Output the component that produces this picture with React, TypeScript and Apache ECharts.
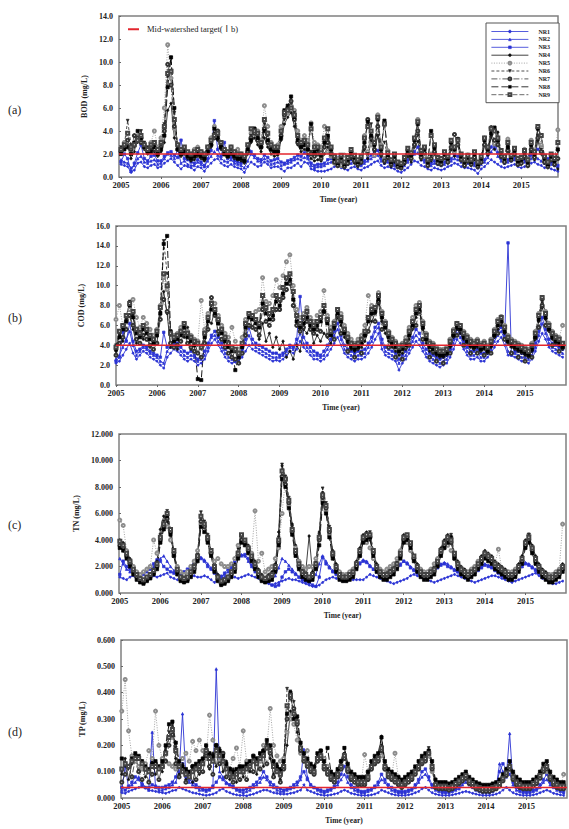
import React, { useEffect, useRef } from 'react';
import * as echarts from 'echarts';

// Year tick labels
const yearTicks = [2005, 2006, 2007, 2008, 2009, 2010, 2011, 2012, 2013, 2014, 2015];
// Monthly sampling times Jan 2005 .. Dec 2015
const months: number[] = [];
for (let k = 0; k < 132; k++) months.push(2005 + k / 12);

const seriesNames = ['NR1', 'NR2', 'NR3', 'NR4', 'NR5', 'NR6', 'NR7', 'NR8', 'NR9'];
const targetName = 'Mid-watershed target(Ⅰb)';

// ---------------- (a) BOD (mg/L) ----------------
const bodNR1 = [
  1.1,1.0,0.9,0.4,0.6,1.2,1.3,0.9,0.8,1.0,1.1,0.8,
  0.9,1.2,1.4,1.6,1.3,1.0,0.7,1.0,0.9,0.8,0.6,0.9,
  0.8,0.5,0.9,1.2,1.5,1.6,1.2,1.0,0.9,1.1,0.9,0.8,
  0.7,0.4,0.9,1.3,1.1,0.9,1.0,1.3,1.1,0.8,0.9,0.9,
  0.7,0.5,0.8,0.8,1.0,1.2,0.9,1.3,1.2,0.7,0.6,0.5,
  0.5,0.5,0.6,0.7,0.9,1.0,0.8,0.7,0.6,0.8,0.9,0.7,
  0.6,0.8,0.9,1.1,1.3,1.4,1.0,0.8,0.9,0.8,0.7,0.5,
  0.4,0.6,0.8,1.1,1.4,1.3,1.0,0.9,0.7,0.6,0.8,0.7,
  0.6,0.7,0.9,1.0,1.2,1.1,0.9,0.8,0.8,0.7,0.6,0.3,
  0.7,0.9,1.2,1.5,1.3,1.1,0.9,0.8,0.9,1.0,1.1,0.9,
  0.8,0.9,1.0,1.2,1.3,1.1,1.0,0.8,0.9,0.7,0.6,0.5,
];
const bodNR2 = [
  1.5,1.3,1.2,0.8,1.0,1.6,1.8,1.3,1.2,1.4,1.5,1.1,
  1.2,1.6,2.0,1.9,1.6,2.4,1.2,1.4,1.1,1.0,1.0,1.3,
  1.1,0.9,1.4,1.8,2.2,1.9,1.6,1.4,1.3,1.5,1.2,1.1,
  1.0,0.8,1.4,2.0,1.7,1.4,1.3,1.6,1.4,1.1,1.2,1.3,
  1.0,1.1,1.2,1.3,1.5,1.6,1.5,1.7,1.6,1.0,0.8,0.9,
  0.9,1.0,1.2,1.3,1.5,1.4,1.1,1.0,1.1,1.2,1.3,1.0,
  1.0,1.2,1.4,1.6,1.8,1.9,1.4,1.2,1.3,1.1,1.0,0.9,
  0.8,1.0,1.3,1.6,2.0,2.1,1.5,1.3,1.1,1.0,1.2,1.1,
  1.0,1.1,1.3,1.4,1.6,1.5,1.3,1.2,1.2,1.1,1.0,0.8,
  1.1,1.3,1.7,2.2,2.6,1.8,1.4,1.2,1.3,1.4,1.5,1.3,
  1.2,1.3,1.4,1.6,1.8,1.6,1.4,1.2,1.3,1.1,1.0,0.9,
];
const bodNR3 = [
  1.3,2.0,1.6,0.5,1.2,2.1,2.8,1.6,1.4,1.8,1.9,1.4,
  1.4,1.8,2.1,2.2,1.9,1.7,3.2,1.6,1.5,1.3,1.2,1.5,
  1.3,1.0,1.6,2.3,4.9,2.4,1.8,3.0,1.6,1.7,1.4,1.3,
  1.2,1.6,2.8,2.2,1.9,1.6,1.5,1.9,1.7,1.4,1.5,1.6,
  1.3,1.2,1.4,1.5,1.7,1.9,1.8,2.1,1.8,1.2,1.0,1.1,
  1.1,1.2,1.5,1.6,1.9,1.7,1.3,1.2,1.3,1.5,1.4,1.2,
  1.1,1.4,1.6,1.9,2.2,2.3,1.6,1.4,1.5,1.3,1.2,1.1,
  1.0,1.2,1.5,1.9,2.2,2.6,1.8,1.5,1.3,1.2,1.4,1.3,
  1.2,1.3,1.5,1.6,1.9,1.8,1.5,1.4,1.4,1.3,1.2,0.9,
  1.3,1.5,2.0,2.6,3.2,2.1,1.6,1.4,1.5,1.6,1.7,1.5,
  1.4,1.5,1.7,1.9,2.1,2.4,2.2,1.5,1.6,1.3,1.2,1.0,
];
const bodNR4 = [
  2.0,2.4,2.8,1.6,2.2,3.6,3.2,2.4,2.0,2.6,2.2,1.8,
  2.2,3.0,5.8,6.4,3.4,2.4,1.8,2.0,1.6,1.4,1.5,1.8,
  1.6,1.4,2.0,2.6,3.6,3.2,2.4,2.0,1.8,2.2,1.6,1.5,
  1.4,1.2,2.0,3.0,3.4,2.8,2.2,3.4,2.6,2.0,1.8,1.9,
  3.2,4.6,5.2,5.6,4.4,2.8,2.2,2.4,2.0,1.6,1.4,1.5,
  1.4,2.0,2.6,1.8,1.2,0.9,1.3,0.8,1.1,1.6,1.2,0.9,
  1.2,2.4,1.6,3.2,2.2,3.6,1.8,1.2,1.6,0.9,1.3,0.8,
  0.7,1.1,1.8,1.3,2.6,3.1,1.5,1.9,0.9,1.4,2.0,1.1,
  1.0,1.6,1.2,2.4,1.8,2.9,1.4,0.9,1.3,1.0,1.5,0.8,
  1.2,2.8,1.9,3.6,2.4,3.9,1.7,1.2,2.2,1.4,1.9,1.0,
  1.1,1.6,0.9,2.2,1.5,3.2,2.0,1.2,0.8,1.4,1.0,0.7,
];
const bodNR5 = [
  2.4,3.0,2.6,2.2,2.8,3.6,3.0,2.6,2.4,3.0,4.0,2.6,
  3.4,6.0,11.5,8.6,4.2,2.8,2.4,2.2,2.0,2.0,2.4,2.6,
  2.2,2.0,2.6,3.4,4.4,3.6,3.0,2.4,2.2,2.6,2.2,2.4,
  2.0,1.8,2.4,3.8,4.2,4.0,3.2,6.2,4.4,3.0,2.6,2.8,
  4.4,5.2,5.6,6.2,5.8,4.0,3.2,3.6,3.2,4.7,3.0,2.8,
  2.6,4.4,2.2,1.8,1.2,1.6,1.0,1.9,1.3,2.2,1.5,1.3,
  1.6,3.6,2.2,2.8,1.9,5.4,2.8,1.6,2.3,1.4,1.8,1.2,
  1.1,1.7,2.3,1.6,2.8,5.0,2.2,1.8,1.3,2.0,2.6,1.5,
  1.4,2.1,1.7,3.0,2.2,3.3,1.6,1.2,1.9,1.3,1.8,1.1,
  1.6,3.4,2.4,4.2,2.9,3.2,1.9,1.5,3.3,1.7,2.3,1.4,
  1.3,2.4,1.6,3.2,2.0,4.3,2.8,1.4,1.1,1.9,1.5,4.1,
];
const bodNR6 = [
  2.6,2.8,4.9,2.8,2.6,3.0,4.0,3.0,2.6,2.4,2.8,2.2,
  2.8,4.6,8.7,10.4,5.6,2.6,2.2,2.4,2.0,1.8,2.0,2.2,
  2.0,1.8,2.4,3.0,3.8,3.6,2.8,2.2,2.0,2.4,2.0,1.8,
  1.8,1.6,2.6,3.6,4.0,3.6,2.8,4.6,3.6,2.6,2.4,2.4,
  3.8,5.0,5.8,6.4,5.6,3.4,2.8,3.0,2.6,2.2,2.0,2.2,
  1.8,2.8,3.3,2.2,1.5,1.1,1.6,1.0,1.4,2.0,1.6,1.2,
  1.5,2.9,2.0,4.6,2.6,3.6,2.2,3.0,1.8,1.2,1.7,1.0,
  0.9,1.4,2.2,1.8,3.0,3.6,1.9,2.3,1.2,1.8,2.4,1.4,
  1.3,1.9,1.5,2.8,2.3,3.1,1.7,1.2,1.6,1.2,1.9,1.0,
  1.5,3.0,2.3,3.4,4.2,3.0,2.0,1.5,2.6,1.6,2.2,1.3,
  1.4,2.0,1.2,2.6,1.9,3.6,2.4,1.5,1.0,1.7,1.3,2.2,
];
const bodNR7 = [
  2.2,2.6,3.2,2.4,3.6,3.4,3.0,2.6,2.2,2.6,2.4,2.0,
  2.6,4.0,9.8,8.0,4.4,2.4,2.0,2.2,1.8,1.6,1.8,2.0,
  1.8,1.6,2.2,2.8,3.4,4.0,2.6,2.0,1.8,2.2,1.8,1.6,
  1.6,1.4,2.2,3.4,3.8,3.2,2.6,4.2,3.0,2.4,2.2,2.2,
  3.6,5.4,6.0,6.6,5.0,3.0,2.6,2.8,2.4,2.0,1.8,2.0,
  1.6,2.6,3.0,2.0,1.3,1.0,1.4,0.9,1.2,1.8,1.4,1.1,
  1.3,2.6,5.0,3.4,2.4,4.4,2.0,1.4,1.7,1.1,1.5,0.9,
  0.8,1.3,2.0,1.6,2.8,4.0,1.7,2.1,1.0,1.6,2.2,1.2,
  1.1,1.7,1.3,2.6,3.7,2.8,1.5,1.0,1.4,1.1,1.7,0.9,
  1.3,2.8,2.1,4.3,3.2,2.8,1.8,1.3,2.3,1.5,2.0,1.1,
  1.2,1.8,1.0,2.4,1.7,3.4,2.2,1.3,0.9,1.5,1.1,1.6,
];
const bodNR8 = [
  2.0,2.4,2.6,2.0,3.0,4.0,3.4,2.6,2.2,2.2,2.6,2.0,
  2.4,3.6,7.8,10.4,6.0,2.4,2.0,2.2,1.8,1.6,1.8,2.0,
  1.8,1.6,2.2,2.8,4.2,3.4,2.6,2.0,1.8,2.0,1.8,1.6,
  1.6,1.4,2.4,3.2,4.2,3.4,2.6,4.0,3.2,2.4,2.2,2.2,
  3.4,5.8,6.2,7.0,5.2,3.2,2.6,2.8,2.4,4.6,2.2,2.4,
  1.9,3.0,3.6,2.4,1.6,1.2,1.7,1.1,1.5,2.1,1.7,1.3,
  1.6,3.0,4.8,3.6,2.8,5.0,2.4,4.9,1.9,1.3,1.8,1.1,
  1.0,1.5,2.3,1.9,3.2,4.6,2.0,2.4,1.3,4.0,2.5,1.5,
  1.4,2.0,1.6,3.0,2.4,3.3,1.8,1.3,1.7,1.3,2.0,1.1,
  1.6,3.2,2.4,3.8,4.3,3.2,2.1,1.6,2.6,1.7,2.3,1.4,
  1.5,2.1,1.3,2.8,2.0,4.2,3.6,1.6,1.1,1.8,1.4,2.4,
];
const bodNR9 = [
  2.4,2.8,3.8,2.6,2.8,3.2,3.6,2.8,2.4,2.8,3.0,2.4,
  3.0,4.4,9.0,9.2,5.0,2.8,2.4,2.6,2.2,2.0,2.2,2.4,
  2.2,2.0,2.6,3.2,3.6,3.8,3.0,2.4,2.2,2.6,2.2,2.0,
  2.0,1.8,2.8,4.2,4.0,3.8,3.0,5.0,3.8,2.8,2.6,2.6,
  4.0,5.6,5.8,6.0,5.4,3.6,3.0,3.2,2.8,4.2,2.6,2.6,
  2.1,3.4,4.2,2.6,1.8,1.4,1.9,1.3,1.7,2.4,1.9,1.5,
  1.8,3.4,4.4,4.0,3.0,5.2,2.6,4.6,2.1,1.5,2.0,1.3,
  1.2,1.7,2.5,2.1,3.4,4.8,2.3,2.6,1.5,3.6,2.8,1.7,
  1.6,2.2,1.8,3.2,2.6,3.2,2.0,1.5,1.9,1.5,2.2,1.3,
  1.8,3.4,2.6,4.2,4.0,3.4,2.3,1.8,3.0,1.9,2.5,1.6,
  1.7,2.3,1.5,3.0,2.2,4.4,3.6,1.8,1.3,2.0,1.6,3.0,
];

// ---------------- (b) COD (mg/L) ----------------
const codNR1 = [
  2.2,2.4,3.0,3.6,4.2,3.2,2.6,3.0,3.4,3.2,2.8,2.6,
  2.4,2.0,1.7,2.8,3.2,3.6,3.4,3.0,2.6,2.4,2.6,2.4,
  2.0,2.2,2.6,3.4,4.2,4.6,4.0,3.4,2.8,2.4,2.2,2.3,
  2.4,2.8,3.4,4.0,3.6,3.4,3.2,3.0,2.8,2.6,2.4,2.5,
  2.4,2.6,3.0,3.4,3.2,3.6,4.4,3.8,3.4,3.0,2.6,2.6,
  2.4,2.6,3.0,3.6,4.2,4.8,4.0,3.2,2.8,2.6,2.4,2.6,
  2.6,2.8,3.2,3.8,4.6,5.2,3.6,3.0,2.8,2.6,2.4,1.5,
  2.2,2.6,3.2,3.8,4.4,4.0,3.4,2.8,2.4,2.2,2.0,1.8,
  2.0,2.2,2.8,3.6,4.6,4.2,3.6,3.0,2.6,2.6,2.8,2.4,
  2.4,2.8,3.2,3.8,4.4,4.8,4.0,3.0,3.0,2.8,2.6,2.4,
  2.4,2.2,2.6,3.4,4.4,5.2,4.6,3.8,3.4,3.2,3.0,2.8,
];
const codNR2 = [
  2.6,3.0,3.8,4.6,5.4,4.0,3.0,3.4,3.8,3.6,3.2,3.0,
  2.8,2.4,2.2,3.4,3.8,4.2,3.8,3.4,3.0,2.8,3.0,2.8,
  2.4,2.6,3.0,3.8,4.8,5.0,4.4,3.8,3.2,2.8,2.6,2.5,
  2.8,3.4,4.2,5.0,4.2,3.8,3.6,3.4,3.2,3.0,2.8,2.8,
  2.8,3.0,3.4,3.8,3.6,4.2,5.2,4.2,3.8,3.4,3.0,3.0,
  2.8,3.0,3.6,4.2,5.0,5.6,4.6,3.6,3.2,3.0,2.8,3.0,
  3.0,3.2,3.8,4.4,5.4,5.8,4.2,3.4,3.2,3.0,2.8,2.2,
  2.6,3.0,3.6,4.4,5.0,4.6,3.8,3.2,2.8,2.6,2.4,2.2,
  2.4,2.6,3.2,4.2,5.2,4.8,4.0,3.4,3.0,3.0,3.2,2.8,
  2.8,3.2,3.6,4.4,5.0,5.4,4.6,3.4,3.2,3.2,3.0,2.8,
  2.8,2.6,3.0,3.8,5.0,6.2,5.2,4.2,3.8,3.6,3.4,3.2,
];
const codNR3 = [
  2.4,2.8,5.4,4.4,6.2,4.4,3.4,3.6,4.0,3.8,3.4,3.2,
  3.0,2.8,5.3,3.8,4.2,4.6,4.2,3.8,3.4,3.2,3.4,3.0,
  2.6,2.8,3.4,4.2,5.0,5.4,4.8,4.2,3.6,3.2,2.8,2.6,
  3.0,3.6,4.6,5.8,4.6,4.2,4.0,3.8,3.6,3.4,3.2,3.2,
  3.0,3.2,3.6,4.0,3.8,4.6,8.9,4.8,4.2,3.8,3.4,3.2,
  3.0,3.4,4.0,4.6,5.4,6.2,5.0,4.0,3.6,3.4,3.2,3.4,
  3.4,3.6,4.2,4.8,5.8,6.2,4.6,3.8,3.6,3.4,3.2,2.6,
  3.0,3.4,4.0,4.8,5.6,5.2,4.2,3.6,3.2,3.0,2.8,2.6,
  2.8,3.0,3.6,4.6,5.6,5.2,4.4,3.8,3.4,3.4,3.6,3.2,
  3.2,3.6,4.0,4.8,5.4,5.8,5.0,14.3,3.0,3.4,3.4,3.2,
  3.2,3.0,3.4,4.2,5.4,6.8,5.6,4.6,4.2,4.0,3.8,3.6,
];
const codNR4 = [
  3.4,5.2,4.4,6.4,7.0,5.6,4.2,5.4,4.6,5.6,3.8,4.4,
  4.2,7.4,9.4,7.2,3.8,4.8,3.6,5.6,4.8,5.8,3.6,4.4,
  3.2,4.0,4.2,6.6,6.2,7.6,5.0,5.8,3.8,4.4,2.8,3.4,
  2.2,3.8,5.0,7.0,5.8,6.6,4.6,6.2,4.4,5.2,3.8,4.8,
  3.6,4.4,2.8,3.4,2.6,4.0,3.4,5.6,5.2,6.0,4.2,5.0,
  4.4,5.2,4.8,4.2,5.6,6.8,6.0,4.8,4.2,3.6,3.4,3.6,
  3.8,4.4,5.4,6.4,7.2,8.2,6.4,5.2,4.4,3.8,3.4,3.0,
  3.2,3.6,4.6,5.6,6.8,7.4,5.6,4.2,3.4,3.2,3.0,2.8,
  2.8,3.0,3.8,4.8,5.6,5.2,4.6,4.2,3.8,3.6,3.8,3.4,
  3.6,3.2,3.8,4.8,5.6,6.0,5.2,4.2,3.8,3.6,3.4,3.2,
  3.0,2.8,3.4,4.6,6.4,7.8,6.6,5.4,4.6,4.2,4.0,3.6,
];
const codNR5 = [
  6.6,8.0,6.0,6.4,7.6,8.6,6.8,5.8,6.8,6.2,5.6,5.0,
  5.6,8.0,10.8,9.6,5.4,5.0,5.2,5.8,6.2,5.4,5.0,4.6,
  4.4,8.5,5.6,7.2,8.4,8.2,7.0,6.0,5.2,4.8,5.8,4.4,
  3.6,4.8,6.6,7.2,7.0,7.4,7.6,10.8,8.4,8.2,9.0,10.6,
  9.8,11.0,12.4,13.1,10.0,7.6,6.8,7.2,7.8,6.8,6.4,7.0,
  7.4,9.5,7.0,5.8,6.4,7.6,7.2,6.0,5.2,4.6,4.2,4.6,
  5.0,6.0,9.0,8.0,7.8,9.3,7.4,6.4,5.4,4.8,4.4,4.0,
  4.2,4.8,5.8,6.8,8.0,8.3,6.4,5.2,4.4,4.2,3.8,3.6,
  3.6,3.8,4.6,5.6,6.2,6.0,5.4,5.0,4.6,4.4,4.6,4.2,
  4.4,4.0,4.6,5.6,6.6,6.9,6.0,5.0,4.6,4.4,4.2,4.0,
  3.8,3.6,4.2,5.4,7.2,8.6,7.4,6.2,5.4,5.0,4.8,6.0,
];
const codNR6 = [
  4.0,5.0,5.8,6.6,8.4,7.0,5.4,5.0,5.8,5.4,4.8,4.4,
  5.2,7.6,14.5,11.2,5.0,4.6,4.8,5.2,6.0,5.0,4.6,4.2,
  4.0,3.6,5.0,6.6,8.0,7.4,6.4,5.4,4.6,4.0,3.6,3.4,
  3.0,4.0,6.0,7.0,6.8,6.4,6.0,8.8,7.6,7.0,7.4,8.8,
  8.4,9.6,10.6,11.0,9.2,6.8,6.0,6.6,7.2,6.2,5.8,6.2,
  6.6,7.8,6.4,5.2,6.0,7.4,6.6,5.4,4.6,4.0,3.8,4.0,
  4.4,5.2,6.6,7.4,7.6,8.8,7.0,6.0,5.0,4.4,4.0,3.6,
  3.8,4.2,5.2,6.2,7.4,7.8,6.0,4.8,4.0,3.8,3.4,3.2,
  3.2,3.4,4.2,5.2,6.0,5.8,5.0,4.6,4.2,4.0,4.2,3.8,
  4.0,3.6,4.2,5.2,6.2,6.6,5.6,4.6,4.2,4.0,3.8,3.6,
  3.4,3.2,3.8,5.0,6.8,8.4,7.0,5.8,5.0,4.6,4.4,4.0,
];
const codNR7 = [
  3.0,4.2,4.8,5.6,7.0,6.0,4.6,4.2,5.0,4.6,4.0,3.6,
  4.2,6.6,8.6,7.4,4.2,3.8,4.0,4.4,5.2,4.2,3.8,3.4,
  3.2,2.8,4.2,5.6,8.8,7.0,5.4,4.6,3.8,3.2,2.8,2.6,
  2.2,3.2,5.0,6.0,5.8,5.6,5.0,7.6,6.4,6.0,6.6,7.6,
  7.6,8.8,9.6,10.2,8.0,6.0,5.4,5.8,6.4,5.6,5.2,5.6,
  5.4,7.4,5.0,5.2,4.6,7.0,5.2,5.4,3.4,4.0,2.8,3.8,
  3.2,5.0,5.4,7.2,6.4,8.4,5.6,6.0,3.8,4.2,2.8,3.4,
  2.6,3.8,4.0,5.8,6.0,7.4,4.6,4.6,2.8,3.4,2.4,3.0,
  2.2,3.2,3.2,5.0,5.0,5.6,4.0,4.4,3.2,3.8,3.2,3.6,
  3.0,3.4,3.2,5.0,5.2,6.4,4.6,4.4,3.2,3.8,2.8,3.4,
  2.4,3.0,2.8,4.8,5.8,8.0,6.0,5.6,4.0,4.4,3.4,3.8,
];
const codNR8 = [
  3.6,4.8,5.6,6.4,8.0,6.8,5.2,4.8,5.6,5.2,4.6,4.2,
  5.0,7.2,14.2,15.0,5.4,4.4,4.6,5.0,5.8,4.8,4.4,4.0,
  0.6,0.5,4.8,6.4,7.6,7.2,6.2,5.2,4.4,3.8,3.4,1.5,
  2.8,3.8,5.8,6.8,6.6,6.2,5.8,8.2,7.2,6.6,7.0,8.4,
  8.0,9.2,10.2,10.6,8.6,6.4,5.8,6.2,6.8,6.0,5.6,6.0,
  6.4,7.4,6.2,5.0,5.8,7.2,6.4,5.2,4.4,3.8,3.6,3.8,
  4.2,5.0,6.4,7.2,7.4,8.6,6.8,5.8,4.8,4.2,3.8,3.4,
  3.6,4.0,5.0,6.0,7.2,7.6,5.8,4.6,3.8,3.6,3.2,3.0,
  3.0,3.2,4.0,5.0,5.8,5.6,4.8,4.4,4.0,3.8,4.0,3.6,
  3.8,3.4,4.0,5.0,6.0,6.4,5.4,4.4,4.0,3.8,3.6,3.4,
  3.2,3.0,3.6,4.8,6.6,8.8,6.8,5.6,4.8,4.4,4.2,3.8,
];
const codNR9 = [
  3.8,5.4,6.0,7.0,8.2,7.4,5.6,5.2,6.0,5.6,5.0,4.6,
  5.4,7.8,11.2,10.0,5.2,4.8,5.0,5.4,6.2,5.2,4.8,4.4,
  4.2,3.8,5.2,6.8,8.2,7.6,6.6,5.6,4.8,4.2,3.8,3.6,
  3.2,4.2,6.2,7.2,7.0,6.6,6.2,9.0,7.8,7.2,7.6,9.0,
  8.6,9.8,10.8,11.2,9.4,7.0,6.2,6.8,7.4,6.4,6.0,6.4,
  6.8,8.0,6.6,5.4,6.2,7.6,6.8,5.6,4.8,4.2,4.0,4.2,
  4.6,5.4,6.8,7.6,7.8,9.0,7.2,6.2,5.2,4.6,4.2,3.8,
  4.0,4.4,5.4,6.4,7.6,8.0,6.2,5.0,4.2,4.0,3.6,3.4,
  3.4,3.6,4.4,5.4,6.2,6.0,5.2,4.8,4.4,4.2,4.4,4.0,
  4.2,3.8,4.4,5.4,6.4,6.8,5.8,4.8,4.4,4.2,4.0,3.8,
  3.6,3.4,4.0,5.2,7.0,8.8,7.2,6.0,5.2,4.8,4.6,4.2,
];

// ---------------- (c) TN (mg/L) ----------------
const tnNR1 = [
  1.2,1.1,1.0,1.2,1.3,1.0,0.9,1.0,1.1,1.2,1.3,1.2,
  1.3,1.4,1.5,1.2,1.1,1.0,1.0,1.1,1.2,1.2,1.3,1.2,
  1.2,1.3,1.2,1.0,0.8,1.0,1.1,1.2,1.3,1.2,1.2,1.1,
  1.2,1.3,1.4,1.3,1.2,1.1,1.0,0.9,0.7,0.6,0.7,0.8,
  0.9,1.0,1.1,1.0,1.0,0.9,0.8,0.7,0.6,0.5,0.5,0.6,
  0.8,1.0,1.1,1.2,1.1,1.0,0.9,0.9,1.0,1.0,1.0,1.0,
  1.0,1.2,1.4,1.3,1.2,1.1,1.0,0.9,0.8,0.7,0.8,0.9,
  1.0,1.1,1.3,1.4,1.3,1.2,1.1,1.0,0.9,0.8,0.9,1.0,
  1.1,1.2,1.3,1.4,1.3,1.2,1.1,1.0,0.9,0.8,0.9,1.0,
  1.1,1.2,1.3,1.3,1.2,1.1,1.0,0.9,0.8,0.9,1.0,1.1,
  1.2,1.3,1.4,1.5,1.3,1.1,1.0,0.8,0.7,0.7,0.8,0.9,
];
const tnNR2 = [
  2.6,2.2,1.8,1.6,1.5,1.4,1.3,1.4,1.6,1.8,2.0,2.4,
  2.6,2.8,2.4,2.0,1.7,1.5,1.4,1.5,1.7,1.9,2.2,2.6,
  2.7,2.5,2.2,1.9,1.6,1.4,1.3,1.4,1.6,1.9,2.3,2.7,
  2.9,2.8,2.4,2.0,1.6,1.4,1.2,1.0,0.9,1.0,1.3,1.9,
  2.6,2.4,2.1,1.8,1.5,1.2,1.0,0.9,0.8,1.0,1.4,2.2,
  2.8,2.4,2.0,1.7,1.5,1.3,1.2,1.3,1.5,1.7,2.0,2.3,
  2.5,2.4,2.1,1.8,1.6,1.4,1.3,1.4,1.6,1.8,2.0,2.2,
  2.4,2.3,2.0,1.8,1.6,1.4,1.3,1.4,1.6,1.8,2.0,2.2,
  2.3,2.2,2.0,1.8,1.6,1.5,1.3,1.3,1.4,1.6,1.8,2.0,
  2.2,2.1,2.0,1.8,1.6,1.4,1.3,1.3,1.4,1.6,1.8,2.0,
  2.3,2.2,2.0,1.8,1.6,1.4,1.2,1.1,1.2,1.4,1.6,1.8,
];
const tnNR3 = [
  1.4,2.4,2.0,1.8,1.6,1.5,1.4,1.5,1.7,1.9,2.2,2.5,
  2.4,2.0,1.8,1.6,1.5,1.6,1.5,1.6,1.8,2.0,2.4,2.6,
  2.6,2.4,2.0,1.8,1.5,1.3,1.2,1.5,1.8,2.0,2.4,2.8,
  2.8,2.9,2.6,2.1,1.7,1.4,1.2,1.0,0.8,0.6,0.5,0.6,
  1.2,1.6,1.8,1.6,1.4,1.2,1.0,0.9,0.8,0.6,0.5,1.2,
  2.7,2.2,1.9,1.6,1.4,1.3,1.2,1.3,1.4,1.6,1.9,2.2,
  2.4,2.3,2.0,1.8,1.6,1.4,1.3,1.3,1.5,1.7,1.9,2.1,
  2.4,2.2,1.9,1.7,1.5,1.3,1.2,1.3,1.5,1.7,1.9,2.1,
  2.2,2.0,1.9,1.7,1.6,1.4,1.3,1.2,1.4,1.5,1.7,1.9,
  2.1,2.0,1.9,1.7,1.5,1.3,1.2,1.2,1.4,1.6,1.8,2.0,
  2.2,2.1,1.9,1.7,1.5,1.3,1.2,1.1,1.1,1.3,1.6,1.8,
];
const tnNR4 = [
  4.0,3.8,3.2,2.6,2.0,1.6,1.2,1.0,1.2,1.4,1.8,2.4,
  4.8,5.8,5.4,4.4,3.0,1.8,1.2,1.0,1.2,1.6,2.2,3.0,
  5.6,5.2,4.2,3.2,2.2,1.4,0.8,1.0,1.2,1.6,2.2,3.4,
  4.4,4.0,3.6,3.0,2.4,1.8,1.4,1.2,1.4,1.6,2.2,4.6,
  9.6,8.4,7.0,5.2,3.6,2.4,1.8,1.6,4.3,1.6,2.4,4.6,
  7.6,6.6,4.8,3.2,2.2,1.6,1.4,1.4,1.6,1.8,2.4,3.4,
  4.4,4.6,4.0,3.0,2.2,1.8,1.6,1.6,1.8,2.0,2.4,3.2,
  4.4,4.2,3.6,2.8,2.2,1.8,1.6,1.6,1.8,2.0,2.6,3.4,
  4.0,4.4,3.8,3.0,2.4,2.0,1.8,1.6,1.8,2.0,2.4,2.8,
  3.2,3.0,2.8,2.4,2.2,2.0,1.8,1.6,1.6,1.8,2.2,2.8,
  4.0,4.2,3.6,2.8,2.2,1.8,1.6,1.4,1.4,1.6,1.8,2.2,
];
const tnNR5 = [
  5.5,5.1,3.2,2.4,2.0,1.6,1.4,1.6,1.8,2.0,4.0,3.0,
  4.2,5.4,5.0,4.0,2.8,2.0,1.6,1.4,1.6,2.0,2.4,3.2,
  5.2,5.0,4.0,3.0,2.4,2.6,2.2,2.0,2.0,2.2,2.6,3.6,
  4.2,3.8,3.4,3.0,6.2,2.4,3.0,1.6,1.8,2.0,2.6,3.4,
  6.0,8.6,6.6,4.8,3.4,2.4,2.0,1.8,2.0,2.0,2.6,4.2,
  7.0,6.2,4.4,3.0,2.0,1.6,1.4,1.4,1.6,1.8,2.2,2.8,
  4.0,3.8,3.4,2.6,2.0,1.8,1.6,1.8,2.0,2.2,2.6,3.2,
  4.0,3.8,3.2,2.6,2.0,1.8,1.6,1.6,1.8,2.2,2.6,3.2,
  3.4,3.6,3.2,2.6,2.2,1.8,1.6,1.6,1.8,2.0,2.4,2.6,
  3.0,2.8,2.6,2.2,3.3,1.8,1.6,1.6,1.6,1.8,2.0,2.4,
  3.6,4.4,3.4,2.6,2.0,1.6,1.4,1.4,1.4,1.6,1.8,5.2,
];
const tnNR6 = [
  3.8,3.6,3.0,2.4,1.8,1.4,1.0,0.8,1.0,1.2,1.6,2.2,
  4.4,5.4,6.2,4.8,3.2,1.8,1.2,1.0,1.2,1.6,2.0,2.8,
  6.1,5.4,4.4,3.2,2.0,1.2,0.6,0.8,1.0,1.4,2.0,3.0,
  4.2,4.0,3.4,2.8,2.2,1.6,1.2,1.0,1.2,1.4,2.0,4.2,
  9.7,8.8,7.2,5.0,3.2,2.2,1.6,1.4,1.2,1.4,2.2,4.4,
  7.9,6.8,5.0,3.0,2.0,1.4,1.2,1.2,1.4,1.6,2.2,3.2,
  4.2,4.4,4.6,3.2,2.0,1.6,1.4,1.4,1.6,1.8,2.2,3.0,
  4.2,4.4,3.8,2.8,2.0,1.6,1.4,1.4,1.6,1.8,2.4,3.2,
  3.8,4.2,4.4,3.0,2.2,1.8,1.6,1.4,1.6,1.8,2.2,2.6,
  3.0,2.8,2.6,2.2,2.0,1.8,1.6,1.4,1.4,1.6,2.0,2.6,
  3.8,4.4,3.4,2.6,2.0,1.6,1.4,1.2,1.2,1.4,1.6,2.0,
];
const tnNR7 = [
  3.6,3.4,2.8,2.2,1.6,1.2,1.0,0.8,1.0,1.2,1.5,2.0,
  4.0,5.0,5.6,4.6,3.0,1.6,1.0,0.9,1.0,1.4,1.8,2.6,
  5.4,5.0,4.0,3.0,1.8,1.0,0.7,0.8,1.0,1.4,1.8,2.8,
  4.0,3.8,3.2,2.6,2.0,1.4,1.0,0.9,1.0,1.2,1.8,3.8,
  8.8,8.2,6.8,4.6,3.0,2.0,1.4,1.2,1.0,1.2,2.0,4.0,
  7.2,6.4,4.6,2.8,1.8,1.2,1.0,1.0,1.2,1.4,2.0,3.0,
  4.0,4.2,4.2,3.0,1.8,1.4,1.2,1.2,1.4,1.6,2.0,2.8,
  4.0,4.2,3.6,2.6,1.8,1.4,1.2,1.2,1.4,1.6,2.2,3.0,
  3.6,4.0,3.8,2.8,2.0,1.6,1.4,1.2,1.4,1.6,2.0,2.4,
  2.8,2.6,2.4,2.0,1.8,1.6,1.4,1.2,1.2,1.4,1.8,2.4,
  3.6,4.0,3.2,2.4,1.8,1.4,1.2,1.0,1.0,1.2,1.4,1.8,
];
const tnNR8 = [
  3.4,3.2,2.6,2.0,1.4,1.0,0.8,0.7,0.9,1.1,1.4,1.8,
  3.8,4.8,5.8,4.4,2.8,1.4,0.9,0.8,0.9,1.2,1.6,2.4,
  5.0,4.6,3.8,2.8,1.6,0.9,0.6,0.7,0.9,1.2,1.6,2.6,
  3.8,3.6,3.0,2.4,1.8,1.2,0.9,0.8,0.9,1.0,1.6,3.6,
  8.6,8.0,6.4,4.4,2.8,1.8,1.2,1.0,0.9,1.0,1.8,3.6,
  6.8,6.0,4.2,2.6,1.6,1.0,0.9,0.9,1.0,1.2,1.8,2.8,
  3.8,4.0,4.2,2.8,1.6,1.2,1.0,1.0,1.2,1.4,1.8,2.6,
  3.8,4.0,3.4,2.4,1.6,1.2,1.0,1.0,1.2,1.4,2.0,2.8,
  3.4,3.8,4.2,2.6,1.8,1.4,1.2,1.0,1.2,1.4,1.8,2.2,
  2.6,2.4,2.2,1.8,1.6,1.4,1.2,1.0,1.0,1.2,1.6,2.2,
  3.4,3.8,3.0,2.2,1.6,1.2,1.0,0.8,0.8,1.0,1.2,1.6,
];
const tnNR9 = [
  3.9,3.6,3.0,2.4,1.8,1.4,1.1,1.0,1.2,1.4,1.7,2.2,
  4.2,5.2,6.0,4.8,3.2,1.8,1.2,1.1,1.2,1.6,2.0,2.8,
  5.8,5.2,4.2,3.2,2.0,1.2,0.9,1.0,1.2,1.6,2.0,3.0,
  4.4,4.0,3.4,2.8,2.2,1.6,1.2,1.1,1.2,1.4,2.0,4.0,
  9.2,8.6,7.0,4.8,3.2,2.2,1.6,1.4,1.2,1.4,2.2,4.2,
  7.4,6.6,4.8,3.0,2.0,1.4,1.2,1.2,1.4,1.6,2.2,3.2,
  4.2,4.4,4.4,3.2,2.0,1.6,1.4,1.4,1.6,1.8,2.2,3.0,
  4.2,4.4,3.8,2.8,2.0,1.6,1.4,1.4,1.6,1.8,2.4,3.2,
  3.8,4.2,4.0,3.0,2.2,1.8,1.6,1.4,1.6,1.8,2.2,2.6,
  3.0,2.8,2.6,2.2,2.0,1.8,1.6,1.4,1.4,1.6,2.0,2.6,
  3.8,4.2,3.4,2.6,2.0,1.6,1.4,1.2,1.2,1.4,1.6,2.0,
];

// ---------------- (d) TP (mg/L) ----------------
const tpNR1 = [
  .020,.018,.025,.030,.035,.040,.045,.038,.030,.028,.025,.022,
  .020,.018,.022,.028,.030,.040,.035,.030,.025,.020,.018,.015,
  .012,.010,.012,.015,.020,.030,.035,.025,.020,.015,.012,.010,
  .010,.008,.012,.015,.020,.025,.030,.030,.025,.020,.018,.015,
  .015,.015,.018,.020,.025,.030,.050,.030,.025,.020,.015,.012,
  .010,.010,.012,.015,.018,.025,.030,.025,.018,.015,.012,.010,
  .010,.010,.012,.015,.020,.030,.025,.020,.015,.012,.010,.010,
  .010,.012,.015,.020,.025,.035,.040,.030,.020,.015,.012,.010,
  .010,.010,.012,.015,.018,.022,.025,.022,.018,.015,.012,.010,
  .010,.010,.012,.015,.020,.030,.040,.030,.020,.015,.012,.010,
  .010,.010,.012,.015,.020,.025,.030,.025,.018,.015,.012,.010,
];
const tpNR2 = [
  .030,.120,.040,.050,.060,.080,.060,.040,.030,.250,.040,.030,
  .030,.035,.040,.050,.060,.100,.320,.080,.060,.050,.040,.030,
  .030,.025,.030,.040,.490,.100,.080,.060,.050,.040,.030,.025,
  .020,.025,.030,.040,.050,.060,.080,.070,.050,.040,.030,.025,
  .025,.030,.035,.040,.050,.070,.185,.080,.050,.040,.030,.025,
  .020,.025,.030,.040,.050,.070,.090,.060,.040,.030,.025,.020,
  .020,.025,.030,.040,.050,.070,.060,.040,.030,.025,.020,.020,
  .020,.025,.030,.040,.060,.080,.090,.070,.040,.030,.025,.020,
  .020,.020,.025,.030,.035,.050,.060,.050,.040,.030,.025,.020,
  .020,.020,.025,.040,.130,.100,.080,.245,.050,.030,.025,.020,
  .020,.020,.025,.030,.040,.060,.070,.050,.040,.030,.025,.020,
];
const tpNR3 = [
  .040,.030,.045,.060,.080,.070,.050,.040,.040,.050,.045,.040,
  .040,.045,.050,.060,.080,.120,.130,.090,.070,.060,.050,.040,
  .035,.030,.035,.045,.060,.080,.070,.055,.050,.045,.035,.030,
  .030,.035,.040,.050,.060,.075,.100,.080,.060,.050,.040,.035,
  .030,.035,.040,.050,.060,.080,.100,.070,.050,.040,.035,.030,
  .025,.030,.035,.045,.060,.090,.120,.080,.050,.040,.030,.025,
  .025,.030,.035,.045,.060,.090,.070,.050,.040,.030,.025,.025,
  .025,.030,.035,.050,.070,.100,.110,.080,.050,.040,.030,.025,
  .025,.025,.030,.035,.040,.060,.070,.060,.045,.035,.030,.025,
  .025,.025,.030,.050,.100,.130,.110,.090,.060,.040,.030,.025,
  .025,.025,.030,.035,.050,.070,.090,.060,.045,.035,.030,.025,
];
const tpNR4 = [
  .090,.150,.070,.130,.160,.110,.140,.080,.100,.140,.090,.120,
  .100,.180,.230,.290,.150,.090,.130,.070,.100,.060,.120,.090,
  .150,.200,.110,.170,.120,.190,.100,.140,.070,.110,.060,.120,
  .080,.140,.100,.150,.090,.170,.120,.210,.150,.090,.130,.070,
  .120,.200,.330,.320,.250,.180,.150,.130,.110,.100,.150,.160,
  .120,.100,.080,.070,.090,.120,.170,.110,.080,.070,.060,.060,
  .060,.080,.120,.140,.150,.235,.120,.090,.080,.070,.060,.050,
  .060,.070,.080,.100,.120,.140,.150,.180,.120,.050,.040,.040,
  .040,.035,.040,.050,.060,.070,.080,.060,.050,.040,.035,.030,
  .030,.030,.035,.040,.050,.070,.090,.120,.080,.060,.050,.040,
  .040,.040,.050,.060,.080,.110,.120,.080,.060,.050,.040,.040,
];
const tpNR5 = [
  .330,.450,.255,.160,.140,.120,.110,.130,.180,.150,.330,.200,
  .150,.140,.130,.120,.110,.130,.150,.170,.140,.215,.180,.220,
  .180,.150,.315,.220,.160,.140,.130,.120,.110,.150,.190,.120,
  .255,.140,.120,.160,.150,.140,.200,.190,.340,.200,.160,.140,
  .150,.250,.300,.280,.220,.170,.140,.180,.120,.100,.140,.180,
  .150,.120,.090,.080,.100,.140,.160,.110,.080,.070,.060,.060,
  .165,.100,.110,.130,.140,.160,.110,.090,.080,.170,.080,.060,
  .070,.080,.090,.110,.120,.140,.150,.160,.100,.050,.040,.040,
  .040,.040,.045,.055,.060,.080,.090,.070,.060,.050,.040,.035,
  .035,.035,.040,.045,.060,.080,.090,.110,.090,.070,.060,.050,
  .040,.045,.050,.060,.090,.110,.100,.080,.060,.050,.040,.090,
];
const tpNR6 = [
  .100,.120,.110,.140,.160,.150,.130,.110,.100,.120,.130,.110,
  .130,.190,.250,.280,.190,.130,.110,.100,.090,.110,.120,.130,
  .140,.190,.160,.150,.190,.170,.150,.120,.100,.090,.100,.110,
  .110,.120,.130,.150,.140,.160,.170,.200,.190,.130,.110,.100,
  .130,.415,.405,.365,.300,.200,.160,.140,.120,.110,.160,.170,
  .130,.110,.090,.080,.100,.130,.190,.120,.090,.080,.070,.070,
  .070,.090,.130,.150,.160,.200,.130,.100,.090,.080,.070,.060,
  .070,.080,.090,.110,.130,.150,.160,.190,.130,.060,.050,.050,
  .050,.045,.050,.060,.070,.080,.090,.070,.060,.050,.045,.040,
  .040,.040,.045,.050,.060,.080,.100,.130,.090,.070,.060,.050,
  .050,.050,.060,.070,.090,.120,.130,.090,.070,.060,.050,.050,
];
const tpNR7 = [
  .060,.090,.120,.080,.150,.100,.070,.110,.060,.090,.130,.070,
  .120,.140,.200,.240,.130,.080,.110,.060,.090,.120,.070,.100,
  .100,.160,.120,.090,.200,.130,.170,.080,.110,.060,.100,.070,
  .110,.070,.130,.100,.140,.110,.180,.130,.170,.080,.110,.060,
  .110,.300,.380,.340,.280,.180,.140,.120,.100,.090,.140,.150,
  .110,.090,.070,.060,.080,.110,.150,.100,.070,.060,.050,.050,
  .050,.070,.110,.130,.140,.180,.110,.080,.070,.060,.050,.040,
  .050,.060,.070,.090,.110,.130,.140,.170,.110,.040,.035,.035,
  .035,.030,.035,.045,.055,.065,.075,.055,.045,.035,.030,.025,
  .025,.025,.030,.035,.045,.065,.085,.110,.070,.050,.040,.035,
  .035,.035,.045,.055,.075,.100,.110,.070,.050,.040,.035,.035,
];
const tpNR8 = [
  .150,.130,.120,.150,.170,.160,.140,.120,.110,.130,.140,.120,
  .140,.200,.280,.290,.210,.140,.120,.110,.100,.120,.130,.140,
  .150,.200,.170,.160,.200,.180,.160,.130,.110,.100,.110,.120,
  .120,.130,.140,.160,.150,.170,.180,.220,.200,.140,.120,.110,
  .140,.320,.400,.300,.310,.210,.170,.150,.130,.120,.170,.180,
  .140,.190,.100,.090,.110,.140,.190,.130,.100,.090,.080,.080,
  .080,.100,.140,.160,.170,.230,.140,.110,.100,.090,.080,.070,
  .080,.090,.100,.120,.140,.160,.170,.180,.140,.070,.060,.060,
  .060,.055,.060,.070,.080,.090,.100,.080,.070,.060,.055,.050,
  .050,.050,.055,.060,.070,.090,.110,.140,.100,.080,.070,.060,
  .060,.060,.070,.080,.100,.130,.140,.100,.080,.070,.060,.060,
];
const tpNR9 = [
  .110,.130,.120,.140,.150,.150,.130,.110,.100,.120,.120,.110,
  .120,.170,.230,.260,.180,.120,.100,.090,.080,.100,.110,.120,
  .130,.180,.150,.140,.180,.160,.140,.110,.090,.080,.090,.100,
  .100,.110,.120,.140,.130,.150,.160,.190,.180,.120,.100,.090,
  .120,.350,.390,.320,.290,.190,.150,.130,.110,.100,.150,.160,
  .120,.100,.080,.070,.090,.120,.160,.110,.080,.070,.060,.060,
  .060,.080,.120,.140,.150,.190,.120,.090,.080,.070,.060,.050,
  .060,.070,.080,.100,.120,.140,.150,.170,.120,.050,.045,.045,
  .045,.040,.045,.055,.065,.075,.085,.065,.055,.045,.040,.035,
  .035,.035,.040,.045,.055,.075,.095,.120,.080,.060,.050,.045,
  .045,.045,.055,.065,.085,.110,.120,.080,.060,.050,.045,.045,
];

// Reference targets (Ⅰb); TN has none
const targetValues = [2.0, 4.0, null, 0.04];

// ---------------- styling ----------------
const FONT = "'Liberation Serif', 'Times New Roman', 'Noto Sans CJK KR', serif";
const BLUE = '#2b33d4';
const lineStyles: any[] = [
  { color: BLUE, symbol: 'circle', size: 2, type: 'solid', width: 0.9 },
  { color: BLUE, symbol: 'triangle', size: 2.5, type: 'solid', width: 0.9 },
  { color: BLUE, symbol: 'rect', size: 2.5, type: 'solid', width: 0.9 },
  { color: '#111111', symbol: 'circle', size: 2.4, type: 'solid', width: 0.8 },
  { color: '#8c8c8c', symbol: 'emptyCircle', size: 3, type: [1, 1.5], width: 0.8 },
  { color: '#222222', symbol: 'triangle', rotate: 180, size: 2.8, type: [3, 2], width: 0.8 },
  { color: '#333333', symbol: 'emptyCircle', size: 3, type: [6, 2, 1, 2], width: 0.8 },
  { color: '#000000', symbol: 'rect', size: 3.2, type: [7, 3], width: 0.9 },
  { color: '#444444', symbol: 'emptyRect', size: 3, type: [5, 2], width: 0.8 },
];

const panelLayout = [
  { label: '(a)', labelTop: 104, yName: 'BOD (mg/L)', max: 14, interval: 2, digits: 1, xMin: 2004.95, xMax: 2015.92,
    grid: { left: 119, top: 16, width: 439, height: 161 } },
  { label: '(b)', labelTop: 312, yName: 'COD (mg/L)', max: 16, interval: 2, digits: 1, xMin: 2005, xMax: 2016,
    grid: { left: 116, top: 226, width: 450, height: 159 } },
  { label: '(c)', labelTop: 519, yName: 'TN (mg/L)', max: 12, interval: 2, digits: 3, xMin: 2004.98, xMax: 2016,
    grid: { left: 119, top: 434, width: 447, height: 159 } },
  { label: '(d)', labelTop: 726, yName: 'TP (mg/L)', max: 0.6, interval: 0.1, digits: 3, xMin: 2004.98, xMax: 2016,
    grid: { left: 121, top: 640, width: 446, height: 158 } },
];

const panelData = [
  [bodNR1, bodNR2, bodNR3, bodNR4, bodNR5, bodNR6, bodNR7, bodNR8, bodNR9],
  [codNR1, codNR2, codNR3, codNR4, codNR5, codNR6, codNR7, codNR8, codNR9],
  [tnNR1, tnNR2, tnNR3, tnNR4, tnNR5, tnNR6, tnNR7, tnNR8, tnNR9],
  [tpNR1, tpNR2, tpNR3, tpNR4, tpNR5, tpNR6, tpNR7, tpNR8, tpNR9],
];

function buildOption() {
  const grid: any[] = [];
  const xAxis: any[] = [];
  const yAxis: any[] = [];
  const series: any[] = [];
  const graphic: any[] = [];

  panelLayout.forEach((p, pi) => {
    grid.push({ ...p.grid, show: true, borderColor: '#808080', borderWidth: 1.5, backgroundColor: '#fff' });
    xAxis.push({
      type: 'value', gridIndex: pi, min: p.xMin, max: p.xMax,
      name: 'Time (year)', nameLocation: 'middle', nameGap: 19,
      nameTextStyle: { fontFamily: FONT, fontWeight: 'bold', fontSize: 7.5, color: '#222' },
      axisLine: { show: false },
      axisTick: { show: true, customValues: yearTicks, length: 2, lineStyle: { color: '#666' } },
      axisLabel: { customValues: yearTicks, formatter: (v: number) => String(Math.round(v)), fontFamily: FONT,
        fontWeight: 'bold', fontSize: 8.5, color: '#222', margin: 4 },
      splitLine: { show: false },
    });
    yAxis.push({
      type: 'value', gridIndex: pi, min: 0, max: p.max, interval: p.interval,
      name: p.yName, nameLocation: 'middle', nameGap: 30,
      nameTextStyle: { fontFamily: FONT, fontWeight: 'bold', fontSize: 8, color: '#222' },
      axisLine: { show: false },
      axisTick: { show: true, length: 2, inside: true, lineStyle: { color: '#666' } },
      axisLabel: { formatter: (v: number) => v.toFixed(p.digits), fontFamily: FONT, fontWeight: 'bold',
        fontSize: 8, color: '#222', margin: 6 },
      splitLine: { show: false },
    });
    panelData[pi].forEach((vals, si) => {
      const st = lineStyles[si];
      series.push({
        type: 'line', name: seriesNames[si], xAxisIndex: pi, yAxisIndex: pi,
        data: vals.map((v, k) => [months[k], v]),
        symbol: st.symbol, symbolSize: st.size, symbolRotate: st.rotate || 0,
        showAllSymbol: true, clip: false,
        lineStyle: { color: st.color, width: st.width, type: st.type },
        itemStyle: { color: st.color, borderColor: st.color, borderWidth: 0.7 },
        emphasis: { disabled: true },
        z: 2,
      });
    });
    const t = targetValues[pi];
    if (t !== null) {
      series.push({
        type: 'line', name: targetName, xAxisIndex: pi, yAxisIndex: pi,
        data: [[p.xMin, t], [p.xMax, t]], symbol: 'none',
        lineStyle: { color: '#e3262e', width: 1.6, type: 'solid' },
        itemStyle: { color: '#e3262e' },
        emphasis: { disabled: true },
        z: 4,
      });
    }
    graphic.push({
      type: 'text', left: 8, top: p.labelTop,
      style: { text: p.label, font: `12px ${FONT}`, fill: '#222' },
    });
  });

  return {
    animation: false,
    backgroundColor: '#ffffff',
    grid, xAxis, yAxis, series, graphic,
    legend: [
      {
        data: seriesNames, orient: 'vertical', left: 486, top: 23,
        padding: [5.5, 9, 5, 5], itemWidth: 37, itemHeight: 3.5, itemGap: 1.9,
        borderColor: '#555', borderWidth: 1, backgroundColor: '#fff',
        selectedMode: false,
        itemStyle: { borderWidth: 0.5 },
        lineStyle: { width: 0.8 },
        textStyle: { fontFamily: FONT, fontWeight: 'bold', fontSize: 6, color: '#222', lineHeight: 6, padding: [0, 0, 0, 5] },
      },
      {
        data: [{ name: targetName, icon: 'rect' }], orient: 'horizontal', left: 128, top: 25,
        padding: 0, itemWidth: 11, itemHeight: 2, selectedMode: false,
        textStyle: { fontFamily: FONT, fontSize: 8.5, color: '#222', padding: [0, 0, 0, 3] },
      },
    ],
  };
}

export default function App() {
  const ref = useRef<HTMLDivElement>(null);
  useEffect(() => {
    if (!ref.current) return;
    const chart = echarts.init(ref.current, null, { renderer: 'svg' });
    chart.setOption(buildOption() as any);
    return () => chart.dispose();
  }, []);
  return (
    <div
      ref={ref}
      style={{ position: 'absolute', left: 0, top: 0, width: 569, height: 829, background: '#fff' }}
    />
  );
}
